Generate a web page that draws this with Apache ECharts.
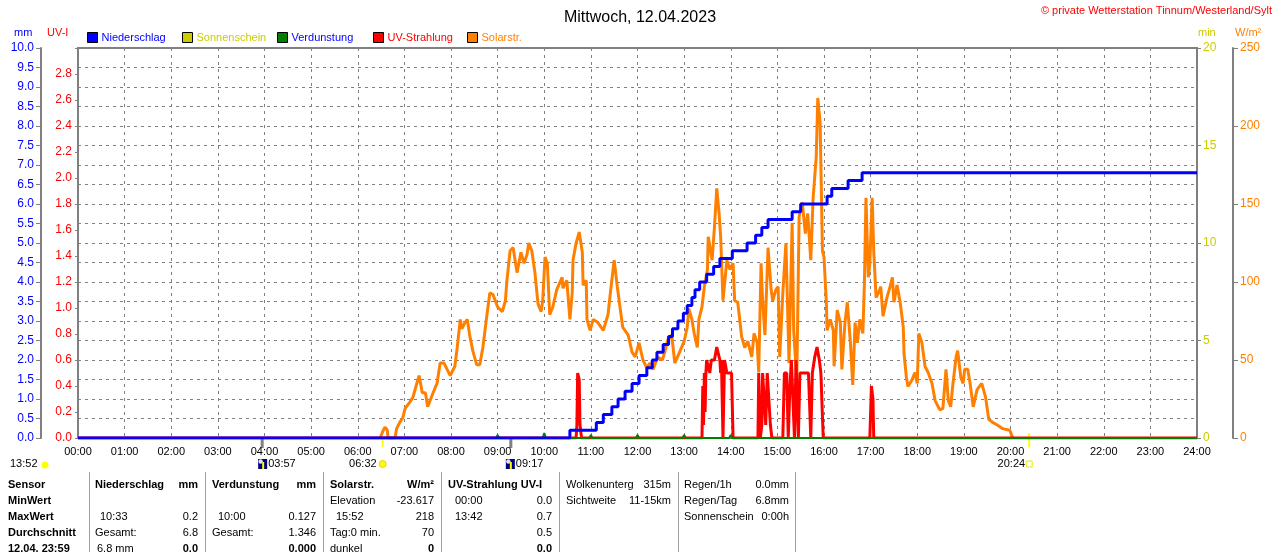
<!DOCTYPE html>
<html>
<head>
<meta charset="utf-8">
<script src="https://cdn.jsdelivr.net/npm/echarts/dist/echarts.min.js"></script>
<style>
html, body { margin: 0; padding: 0; background: #fff; }
#chart { width: 1280px; height: 552px; }
</style>
</head>
<body>
<div id="chart"></div>
<script>
// Wetterstation Tinnum - Tagesgrafik 12.04.2023
var FONT = '"Liberation Sans", Arial, sans-serif';

// Niederschlag (kumuliert, mm)
var rainTimes = ['00:00','10:33','11:07','11:16','11:27','11:35','11:44','11:53','12:02','12:12','12:19',
  '12:25','12:33','12:40','12:45','12:52','12:59','13:04','13:10','13:14','13:20','13:29','13:38','13:46',
  '14:02','14:21','14:32','14:40','14:48','15:19','15:30','16:04','16:10','16:31','16:49','24:00'];
var rainValues = [0,0.2,0.4,0.6,0.8,1.0,1.2,1.4,1.6,1.8,2.0,
  2.2,2.4,2.6,2.8,3.0,3.2,3.4,3.6,3.8,4.0,4.2,4.4,4.6,
  4.8,5.0,5.2,5.4,5.6,5.8,6.0,6.2,6.4,6.6,6.8,6.8];

// Verdunstung (mm, stuendlich)
var evapHours  = [1,2,3,4,5,6,7,8,9,10,11,12,13,14,15,16,17,18,19,20,21,22,23];
var evapValues = [0.03,0.03,0.03,0.03,0.03,0.03,0.03,0.04,0.08,0.127,0.08,0.08,0.08,0.08,0.05,0.05,0.05,0.04,0.03,0.03,0.03,0.03,0.03];

// UV-Strahlung (UV-I)
var uvTimes = ['00:00','10:41','10:42','10:43','10:45','10:46','10:48',
  '13:23','13:24','13:25','13:26','13:27','13:28','13:29','13:31','13:33','13:35','13:37','13:39','13:42','13:44','13:46','13:47','13:48','13:50','13:52','13:55','13:58','14:01','14:03',
  '14:35','14:36','14:37','14:38','14:40','14:41','14:43','14:45','14:47','14:49','14:51','14:53',
  '15:07','15:09','15:12','15:14','15:16','15:18','15:20','15:22','15:24','15:27','15:29','15:33','15:36','15:40','15:43','15:45','15:48','15:51','15:54','15:56','15:59',
  '16:59','17:01','17:02','17:03','17:04','24:00'];
var uvValues = [0,0,0.1,0.5,0.45,0.1,0,
  0,0.4,0.1,0.5,0.2,0.5,0.6,0.6,0.5,0.6,0.6,0.6,0.7,0.7,0.6,0.5,0.6,0,0.6,0.5,0.5,0.5,0,
  0,0.5,0.5,0,0.1,0.5,0.3,0.1,0.5,0.5,0.1,0,
  0,0.5,0.5,0,0.37,0.6,0.6,0,0.6,0,0.5,0.5,0.5,0.5,0,0.5,0.62,0.7,0.6,0.5,0,
  0,0.4,0.4,0.3,0,0];

// Solarstrahlung (W/m2)
var solarTimes = ['06:29','06:32','06:35','06:38','06:39','06:48','06:50','06:54','06:58','07:01','07:07','07:11','07:16','07:19',
  '07:23','07:27','07:30','07:37','07:42','07:46','07:51','07:55','07:59','08:05','08:08','08:12','08:14','08:18','08:21',
  '08:24','08:28','08:33','08:37','08:41','08:46','08:50','08:54','09:00','09:06','09:10','09:12','09:16','09:20','09:25',
  '09:30','09:34','09:38','09:40','09:44','09:48','09:52','09:56','09:58','10:01','10:04','10:07','10:11','10:16','10:23',
  '10:24','10:29','10:33','10:36','10:37','10:41','10:45','10:49','10:50','10:54','10:55','10:59','11:03','11:09','11:16',
  '11:22','11:26','11:30','11:34','11:38','11:41','11:48','11:53','11:57','12:02','12:07','12:12','12:16','12:20','12:26',
  '12:32','12:35','12:39','12:44','12:48','12:55','13:00','13:04','13:06','13:10','13:13','13:17','13:19','13:23','13:26',
  '13:30','13:31','13:36','13:39','13:42','13:45','13:47','13:50','13:55','13:59','14:03','14:05','14:09','14:14','14:18',
  '14:22','14:27','14:30','14:34','14:36','14:39','14:41','14:44','14:48','14:52','14:54','14:58','15:01','15:03','15:07',
  '15:11','15:15','15:19','15:21','15:25','15:28','15:32','15:36','15:39','15:43','15:46','15:50','15:52','15:55','15:58',
  '16:00','16:03','16:04','16:08','16:12','16:13','16:17','16:21','16:23','16:27','16:30','16:34','16:37','16:40','16:43',
  '16:46','16:50','16:52','16:54','16:57','16:59','17:02','17:04','17:07','17:10','17:13','17:16','17:21','17:25','17:28',
  '17:30','17:34','17:38','17:42','17:43','17:46','17:48','17:53','17:57','18:00','18:02','18:06','18:10','18:14','18:19',
  '18:23','18:29','18:33','18:37','18:40','18:43','18:46','18:50','18:52','18:56','18:59','19:01','19:05','19:08','19:12',
  '19:17','19:23','19:28','19:32','19:37','19:44','19:50','19:59','20:03'];
var solarValues = [0,4,7,5,0,0,6,10,13,19,23,26,35,40,
  29,29,20,29,35,48,48,44,40,46,58,76,70,74,76,
  66,56,47,47,58,78,93,92,84,81,88,101,120,122,106,
  119,112,118,125,120,106,86,81,88,116,112,79,84,95,103,
  96,101,76,93,114,125,132,119,98,101,76,69,76,74,69,
  79,97,114,97,82,71,66,55,52,61,50,45,48,44,52,
  50,55,63,66,48,56,62,71,83,76,67,58,76,84,97,
  108,129,114,135,160,144,129,88,114,108,112,88,87,65,58,
  62,52,67,61,42,112,88,66,122,95,88,95,97,52,93,
  125,48,138,69,37,142,151,131,144,114,154,180,218,202,120,
  116,87,69,76,69,46,82,74,44,74,87,61,34,74,61,
  76,67,99,154,103,112,154,120,90,93,97,78,90,97,103,
  87,98,87,71,54,39,33,37,42,35,67,61,46,42,35,
  24,18,19,44,24,20,35,52,56,39,35,44,44,35,20,
  31,35,26,12,10,8,6,5,0];

// Auf-/Untergang
var moonRise = '03:57', sunRise = '06:32', moonSet = '09:17', sunSet = '20:24';

function toMin(t) {
  var p = t.split(':');
  return +p[0] * 60 + +p[1];
}
function pairs(times, values) {
  return times.map(function (t, i) { return [toMin(t), values[i]]; });
}
function pad(n) { return (n < 10 ? '0' : '') + n; }

var evapData = [[0, 0]];
evapHours.forEach(function (h, i) {
  evapData.push([h * 60 - 2, 0], [h * 60, evapValues[i]], [h * 60 + 2, 0]);
});
evapData.push([1440, 0]);

var gridColor = '#808080';

function legendAt(left, name, color) {
  return {
    left: left, top: 32, padding: 0, itemWidth: 10, itemHeight: 10, itemGap: 0,
    icon: 'rect', selectedMode: false,
    itemStyle: { borderColor: '#000', borderWidth: 1 },
    textStyle: { color: color, fontSize: 11, fontFamily: FONT, padding: [0, 0, 0, -1] },
    data: [name]
  };
}

var myChart = echarts.init(document.getElementById('chart'));

var option = {
  animation: false,
  backgroundColor: '#fff',
  textStyle: { fontFamily: FONT },
  title: {
    text: 'Mittwoch, 12.04.2023',
    left: 'center', top: 5,
    textStyle: { fontSize: 16, fontWeight: 'normal', color: '#000', fontFamily: FONT }
  },
  legend: [
    legendAt(87, 'Niederschlag', '#0000ff'),
    legendAt(182, 'Sonnenschein', '#cccc00'),
    legendAt(277, 'Verdunstung', '#0000ff'),
    legendAt(373, 'UV-Strahlung', '#ff0000'),
    legendAt(467, 'Solarstr.', '#ff8000')
  ],
  grid: {
    left: 78, right: 83, top: 48, bottom: 114,
    show: true, borderColor: gridColor, borderWidth: 2
  },
  xAxis: {
    type: 'value', min: 0, max: 1440, interval: 60,
    axisLine: { show: true, lineStyle: { color: gridColor, width: 2 } },
    axisTick: { show: false },
    axisLabel: {
      color: '#000', fontSize: 11, margin: 8, fontFamily: FONT,
      formatter: function (v) { return pad(v / 60) + ':00'; }
    },
    splitLine: { show: true, lineStyle: { color: gridColor, type: [3, 4], width: 1 } }
  },
  yAxis: [
    {
      type: 'value', position: 'left', offset: 37, min: 0, max: 10, interval: 0.5,
      axisLine: { show: true, onZero: false, lineStyle: { color: gridColor, width: 2 } },
      axisTick: { show: true, length: 5, lineStyle: { color: gridColor } },
      axisLabel: { color: '#0000ff', fontSize: 12, margin: 7, fontFamily: FONT,
        formatter: function (v) { return v.toFixed(1); } },
      splitLine: { show: true, lineStyle: { color: gridColor, type: [3, 4], width: 1 } }
    },
    {
      type: 'value', position: 'left', offset: 0, min: 0, max: 3, interval: 0.2,
      axisLine: { show: false, onZero: false },
      axisTick: { show: true, length: 3, lineStyle: { color: gridColor } },
      axisLabel: { color: '#ff0000', fontSize: 12, margin: 6, fontFamily: FONT,
        formatter: function (v) { return v > 2.9 ? '' : v.toFixed(1); } },
      splitLine: { show: false }
    },
    {
      type: 'value', position: 'right', offset: 0, min: 0, max: 20, interval: 5,
      axisLine: { show: false, onZero: false },
      axisTick: { show: true, length: 4, lineStyle: { color: gridColor } },
      axisLabel: { color: '#cccc00', fontSize: 12, margin: 6, fontFamily: FONT },
      splitLine: { show: false }
    },
    {
      type: 'value', position: 'right', offset: 36, min: 0, max: 250, interval: 50,
      axisLine: { show: true, onZero: false, lineStyle: { color: gridColor, width: 2 } },
      axisTick: { show: true, length: 5, lineStyle: { color: gridColor } },
      axisLabel: { color: '#ff8000', fontSize: 12, margin: 7, fontFamily: FONT },
      splitLine: { show: false }
    }
  ],
  series: [
    {
      name: 'Solarstr.', type: 'line', yAxisIndex: 3, showSymbol: false, z: 2,
      itemStyle: { color: '#ff8000' }, lineStyle: { color: '#ff8000', width: 3 },
      data: pairs(solarTimes, solarValues)
    },
    {
      name: 'UV-Strahlung', type: 'line', yAxisIndex: 1, showSymbol: false, z: 3,
      itemStyle: { color: '#ff0000' }, lineStyle: { color: '#ff0000', width: 3 },
      data: pairs(uvTimes, uvValues)
    },
    {
      name: 'Sonnenschein', type: 'line', yAxisIndex: 2, showSymbol: false,
      itemStyle: { color: '#cccc00' }, lineStyle: { color: '#cccc00' },
      data: []
    },
    {
      name: 'Verdunstung', type: 'line', yAxisIndex: 0, showSymbol: false, z: 4,
      itemStyle: { color: '#008000' }, lineStyle: { color: '#008000', width: 2 },
      data: evapData
    },
    {
      name: 'Niederschlag', type: 'line', yAxisIndex: 0, showSymbol: false, z: 5, step: 'end',
      itemStyle: { color: '#0000ff' }, lineStyle: { color: '#0000ff', width: 3 },
      data: pairs(rainTimes, rainValues)
    }
  ]
};

myChart.setOption(option);

// Beschriftungen, Marker und Tabelle
function txt(x, y, s, opt) {
  opt = opt || {};
  return {
    type: 'text', x: x, y: y, silent: true,
    style: {
      text: s, fill: opt.color || '#000', align: opt.align || 'left', verticalAlign: 'middle',
      font: (opt.bold ? 'bold ' : '') + (opt.size || 11) + 'px ' + FONT
    }
  };
}
function vline(x, y1, y2, color, w) {
  return { type: 'line', silent: true, shape: { x1: x, y1: y1, x2: x, y2: y2 },
    style: { stroke: color, lineWidth: w || 1 } };
}
function moonIcon(x, y) {
  return { type: 'group', x: x, y: y, silent: true, children: [
    { type: 'rect', shape: { x: 0, y: 0, width: 9, height: 10 }, style: { fill: '#000080' } },
    { type: 'circle', shape: { cx: 2.5, cy: 2.5, r: 2.2 }, style: { fill: '#e0e0ff' } },
    { type: 'rect', shape: { x: 4, y: 3, width: 2, height: 7 }, style: { fill: '#ffff00' } }
  ] };
}
function xPix(t) { return myChart.convertToPixel({ gridIndex: 0 }, [toMin(t), 0])[0]; }

var g = [];
// Achsentitel
g.push(txt(14, 33, 'mm', { color: '#0000ff' }));
g.push(txt(47, 33, 'UV-I', { color: '#ff0000' }));
g.push(txt(1198, 33, 'min', { color: '#cccc00' }));
g.push(txt(1235, 33, 'W/m²', { color: '#ff8000' }));
g.push(txt(1272, 11, '© private Wetterstation Tinnum/Westerland/Sylt', { color: '#ff0000', align: 'right' }));

// Sonne / Mond
var xr = xPix(moonRise), xs = xPix(sunRise), xm = xPix(moonSet), xe = xPix(sunSet);
g.push(vline(xr, 439, 448, gridColor, 3));
g.push(moonIcon(xr - 4, 459));
g.push(txt(xr + 6, 464, moonRise));
g.push(vline(xs, 439, 447, '#ffff00', 2));
g.push(txt(xs - 6, 464, sunRise, { align: 'right' }));
g.push({ type: 'circle', silent: true, shape: { cx: xs, cy: 464, r: 3.5 }, style: { fill: '#ffff00', stroke: '#f0d000' } });
g.push(vline(xm, 439, 448, gridColor, 3));
g.push(moonIcon(xm - 5, 459));
g.push(txt(xm + 5, 464, moonSet));
g.push(vline(xe, 433, 447, '#ffff00', 2));
g.push(txt(xe - 4, 464, sunSet, { align: 'right' }));
g.push({ type: 'rect', silent: true, shape: { x: xe - 3, y: 461, width: 6, height: 6 }, style: { fill: 'none', stroke: '#e8e800' } });
g.push(txt(10, 464, '13:52'));
g.push({ type: 'circle', silent: true, shape: { cx: 45, cy: 465, r: 3.5 }, style: { fill: '#ffff00' } });

// Tabelle
[89, 205, 323, 441, 559, 678, 795].forEach(function (x) { g.push(vline(x + 0.5, 472, 552, '#a0a0a0', 1)); });
var rows = [485, 501, 517, 533, 549];
var B = { bold: true };
g.push(txt(8, rows[0], 'Sensor', B));
g.push(txt(8, rows[1], 'MinWert', B));
g.push(txt(8, rows[2], 'MaxWert', B));
g.push(txt(8, rows[3], 'Durchschnitt', B));
g.push(txt(8, rows[4], '12.04. 23:59', B));

g.push(txt(95, rows[0], 'Niederschlag', B));
g.push(txt(198, rows[0], 'mm', { bold: true, align: 'right' }));
g.push(txt(100, rows[2], '10:33'));
g.push(txt(198, rows[2], '0.2', { align: 'right' }));
g.push(txt(95, rows[3], 'Gesamt:'));
g.push(txt(198, rows[3], '6.8', { align: 'right' }));
g.push(txt(97, rows[4], '6.8 mm'));
g.push(txt(198, rows[4], '0.0', { bold: true, align: 'right' }));

g.push(txt(212, rows[0], 'Verdunstung', B));
g.push(txt(316, rows[0], 'mm', { bold: true, align: 'right' }));
g.push(txt(218, rows[2], '10:00'));
g.push(txt(316, rows[2], '0.127', { align: 'right' }));
g.push(txt(212, rows[3], 'Gesamt:'));
g.push(txt(316, rows[3], '1.346', { align: 'right' }));
g.push(txt(316, rows[4], '0.000', { bold: true, align: 'right' }));

g.push(txt(330, rows[0], 'Solarstr.', B));
g.push(txt(434, rows[0], 'W/m²', { bold: true, align: 'right' }));
g.push(txt(330, rows[1], 'Elevation'));
g.push(txt(434, rows[1], '-23.617', { align: 'right' }));
g.push(txt(336, rows[2], '15:52'));
g.push(txt(434, rows[2], '218', { align: 'right' }));
g.push(txt(330, rows[3], 'Tag:0 min.'));
g.push(txt(434, rows[3], '70', { align: 'right' }));
g.push(txt(330, rows[4], 'dunkel'));
g.push(txt(434, rows[4], '0', { bold: true, align: 'right' }));

g.push(txt(448, rows[0], 'UV-Strahlung UV-I', B));
g.push(txt(455, rows[1], '00:00'));
g.push(txt(552, rows[1], '0.0', { align: 'right' }));
g.push(txt(455, rows[2], '13:42'));
g.push(txt(552, rows[2], '0.7', { align: 'right' }));
g.push(txt(552, rows[3], '0.5', { align: 'right' }));
g.push(txt(552, rows[4], '0.0', { bold: true, align: 'right' }));

g.push(txt(566, rows[0], 'Wolkenunterg'));
g.push(txt(671, rows[0], '315m', { align: 'right' }));
g.push(txt(566, rows[1], 'Sichtweite'));
g.push(txt(671, rows[1], '11-15km', { align: 'right' }));

g.push(txt(684, rows[0], 'Regen/1h'));
g.push(txt(789, rows[0], '0.0mm', { align: 'right' }));
g.push(txt(684, rows[1], 'Regen/Tag'));
g.push(txt(789, rows[1], '6.8mm', { align: 'right' }));
g.push(txt(684, rows[2], 'Sonnenschein'));
g.push(txt(789, rows[2], '0:00h', { align: 'right' }));

myChart.setOption({ graphic: g });
</script>
</body>
</html>
